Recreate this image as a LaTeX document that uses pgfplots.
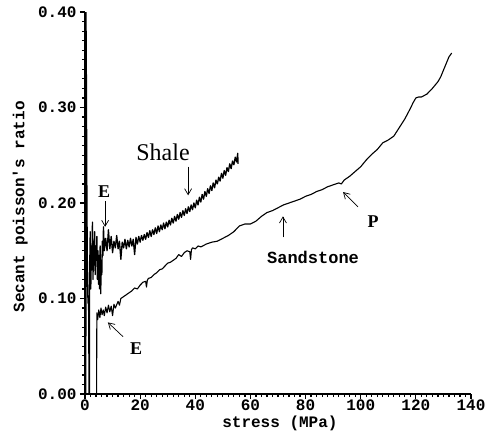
\documentclass[border=0pt]{standalone}
\usepackage{fontspec}
\setmainfont{Liberation Serif}
\setmonofont{Liberation Mono}
\usepackage{pgfplots}
\pgfplotsset{compat=1.18}
\usetikzlibrary{arrows.meta}

\begin{document}
\begin{tikzpicture}
\useasboundingbox (-85pt,-43pt) rectangle (406pt,394pt);
\begin{axis}[
  scale only axis, width=386pt, height=382pt,
  at={(0,0)}, anchor=south west,
  xmin=0, xmax=140, ymin=0, ymax=0.40,
  axis lines*=left,
  axis line style={line width=1.6pt},
  xtick={0,20,...,140}, ytick={0,0.1,0.2,0.3,0.4},
  minor x tick num=9, minor y tick num=9,
  tick align=outside,
  major tick length=5pt, minor tick length=3pt,
  every tick/.style={black, line width=1.2pt},
  /pgf/number format/assume math mode=true,
  ticklabel style={font=\ttfamily\bfseries\fontsize{16}{16}\selectfont},
  xticklabel style={inner sep=1pt},
  yticklabel style={/pgf/number format/.cd, fixed, fixed zerofill, precision=2},
  xlabel={stress (MPa)}, ylabel={Secant poisson's ratio},
  every axis x label/.style={at={(axis description cs:0.505,-0.056)}, anchor=north, inner sep=0pt,
    font=\ttfamily\bfseries\fontsize{16}{16}\selectfont},
  every axis y label/.style={at={(axis description cs:-0.168,0.49)}, rotate=90, anchor=center,
    font=\ttfamily\bfseries\fontsize{16}{16}\selectfont},
]
% shale
\addplot[black, line width=1.3pt, line join=round] coordinates {
(0.30,0.000)(0.36,0.400)(0.5,0.330)(0.7,0.200)(0.9,0.120)(1.1,0.095)(1.3,0.100)
(1.5,0.000)(1.6,0.000)(1.65,0.120)(1.9,0.170)(2.1,0.110)(2.3,0.155)(2.5,0.130)
(2.7,0.180)(2.9,0.120)(3.1,0.160)(3.3,0.135)(3.5,0.170)(3.7,0.125)(3.9,0.155)
(4.1,0.140)(4.3,0.165)(4.5,0.120)(4.7,0.150)(4.9,0.115)(5.1,0.145)(5.3,0.110)
(5.5,0.155)(5.7,0.105)(5.9,0.140)(6.1,0.125)(6.3,0.160)(6.5,0.145)(6.7,0.175)
(7.0,0.150)(7.5,0.163)(8.0,0.150)(8.5,0.172)(9.0,0.152)(9.5,0.165)(10.0,0.148)
(10.5,0.160)(11.0,0.153)(11.5,0.166)(12.0,0.152)(12.5,0.160)(13.0,0.141)
(13.5,0.159)(14.0,0.153)(14.5,0.162)(15.0,0.152)(15.5,0.161)(16.0,0.154)
(16.5,0.163)(17.0,0.155)(17.5,0.162)(18.0,0.146)(18.5,0.164)(19.0,0.157)
(19.5,0.165)(20.0,0.159)(20.5,0.166)(21.0,0.161)(21.5,0.167)(22.0,0.162)
(22.5,0.169)(23.0,0.164)(23.5,0.171)(24.0,0.165)(24.5,0.172)(25.0,0.167)
(25.5,0.174)(26.0,0.168)(26.5,0.176)(27.0,0.170)(27.5,0.177)(28.0,0.172)
(28.5,0.179)(29.0,0.173)(29.5,0.180)(30.0,0.175)(30.5,0.182)(31.0,0.177)
(31.5,0.184)(32.0,0.179)(32.5,0.186)(33.0,0.181)(33.5,0.188)(34.0,0.183)
(34.5,0.190)(35.0,0.185)(35.5,0.192)(36.0,0.187)(36.5,0.194)(37.0,0.189)
(37.5,0.196)(38.0,0.191)(38.5,0.198)(39.0,0.193)(39.5,0.200)(40.0,0.195)
(40.5,0.203)(41.0,0.198)(41.5,0.206)(42.0,0.201)(42.5,0.209)(43.0,0.204)
(43.5,0.212)(44.0,0.207)(44.5,0.215)(45.0,0.210)(45.5,0.218)(46.0,0.213)
(46.5,0.221)(47.0,0.216)(47.5,0.224)(48.0,0.220)(48.5,0.227)(49.0,0.223)
(49.5,0.231)(50.0,0.226)(50.5,0.234)(51.0,0.229)(51.5,0.237)(52.0,0.233)
(52.5,0.241)(53.0,0.236)(53.5,0.244)(54.0,0.240)(54.5,0.248)(55.0,0.243)
(55.4,0.252)(55.5,0.241)
};
% sandstone
\addplot[black, line width=1.1pt, line join=round] coordinates {
(4.2,0.000)(4.3,0.085)(4.6,0.078)(5.0,0.088)(5.4,0.080)(5.8,0.090)(6.2,0.083)
(6.6,0.088)(7.0,0.082)(7.5,0.091)(8.0,0.085)(8.5,0.093)(9.0,0.086)(9.5,0.092)
(10.0,0.082)(10.5,0.094)(11.0,0.090)(12.0,0.097)(12.5,0.093)(13.0,0.100)
(14.0,0.102)(15.0,0.104)(16.0,0.106)(17.0,0.108)(18.0,0.111)(19.0,0.110)
(20.0,0.114)(21.0,0.117)(22.0,0.118)(22.3,0.112)(22.6,0.119)(23.0,0.121)
(24.0,0.122)(25.0,0.125)(26.0,0.127)(27.0,0.130)(28.0,0.131)(29.0,0.134)
(30.0,0.137)(31.0,0.138)(32.0,0.140)(33.0,0.142)(34.0,0.146)(35.0,0.144)
(36.0,0.148)(37.0,0.150)(38.0,0.149)(38.3,0.141)(38.6,0.151)(39.0,0.153)
(40.0,0.152)(41.0,0.155)(42.0,0.154)(44.0,0.157)(46.0,0.159)(48.0,0.160)
(50.0,0.163)(52.0,0.166)(54.0,0.170)(56.0,0.176)(58.0,0.178)(60.0,0.178)
(62.0,0.181)(64.0,0.186)(66.0,0.190)(68.0,0.192)(70.0,0.195)(72.0,0.198)
(74.0,0.200)(76.0,0.202)(78.0,0.204)(80.0,0.207)(82.0,0.209)(84.0,0.212)
(86.0,0.214)(88.0,0.217)(90.0,0.219)(92.0,0.221)(93.0,0.220)(94.0,0.224)
(96.0,0.228)(98.0,0.233)(100.0,0.238)(102.0,0.245)(104.0,0.251)(106.0,0.256)
(108.0,0.263)(110.0,0.266)(112.0,0.270)(114.0,0.279)(116.0,0.288)(118.0,0.299)
(119.0,0.305)(120.0,0.310)(121.0,0.311)(122.0,0.311)(124.0,0.314)(126.0,0.320)
(128.0,0.327)(129.0,0.332)(130.0,0.339)(132.0,0.353)(133.0,0.357)
};
% annotations
\node[font=\fontsize{24}{24}\selectfont] at (axis cs:28.3,0.253) {Shale};
\draw[-{Straight Barb[length=6pt,width=7pt]}, line width=0.7pt] (axis cs:37.4,0.238) -- (axis cs:37.4,0.208);
\node[font=\bfseries\fontsize{18}{18}\selectfont] at (axis cs:6.9,0.212) {E};
\draw[-{Straight Barb[length=6pt,width=7pt]}, line width=0.7pt] (axis cs:7.3,0.202) -- (axis cs:7.3,0.175);
\node[font=\bfseries\fontsize{18}{18}\selectfont] at (axis cs:18.5,0.048) {E};
\draw[-{Straight Barb[length=6pt,width=7pt]}, line width=0.7pt] (axis cs:13.8,0.060) -- (axis cs:8.3,0.075);
\node[font=\ttfamily\bfseries\fontsize{17}{17}\selectfont] at (axis cs:82.7,0.143) {Sandstone};
\draw[-{Straight Barb[length=6pt,width=7pt]}, line width=0.7pt] (axis cs:71.8,0.164) -- (axis cs:71.8,0.186);
\node[font=\bfseries\fontsize{18}{18}\selectfont] at (axis cs:104.5,0.181) {P};
\draw[-{Straight Barb[length=6pt,width=7pt]}, line width=0.7pt] (axis cs:99,0.196) -- (axis cs:93.6,0.2115);
\end{axis}
\end{tikzpicture}
\end{document}
